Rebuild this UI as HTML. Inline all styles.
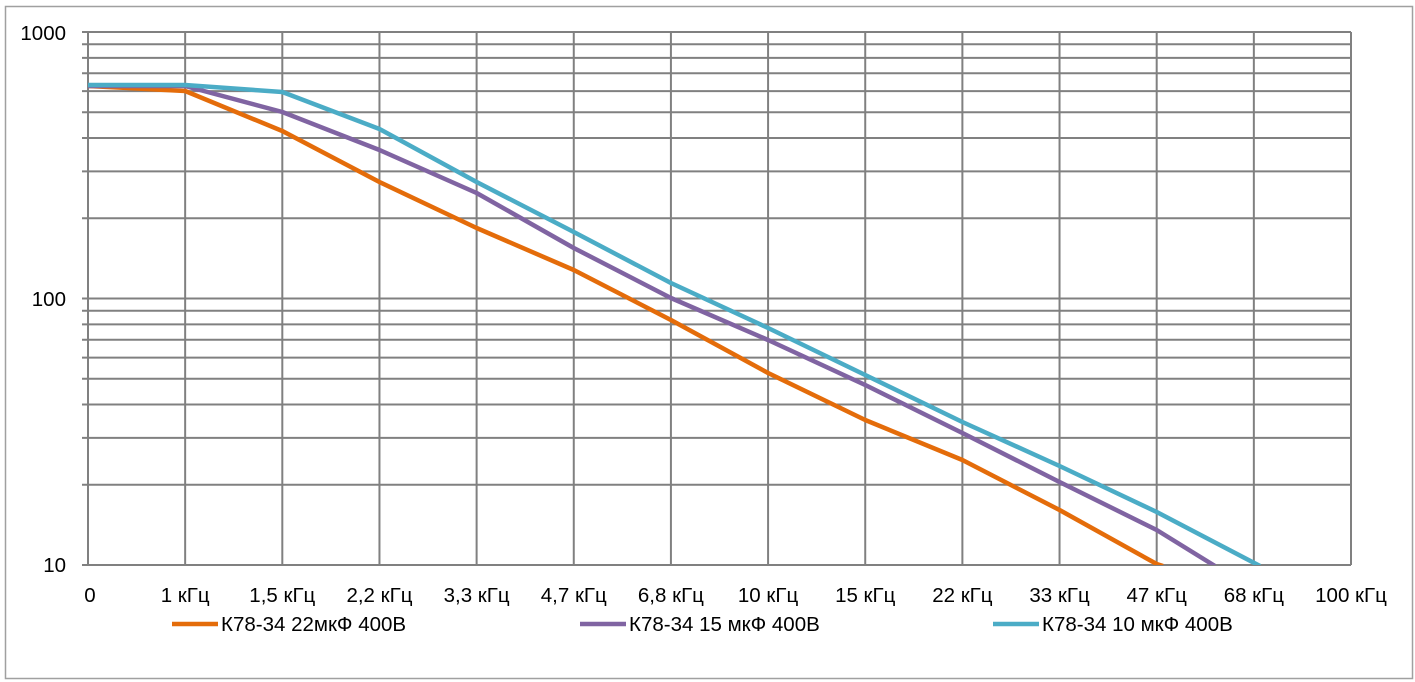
<!DOCTYPE html>
<html><head><meta charset="utf-8"><style>
body{margin:0;background:#fff;}
svg{display:block;font-family:"Liberation Sans",sans-serif;}
</style></head><body>
<svg width="1415" height="682" viewBox="0 0 1415 682">
<rect x="0" y="0" width="1415" height="682" fill="#fff"/>
<rect x="5.5" y="6.5" width="1407" height="672" fill="#fff" stroke="#a0a0a0" stroke-width="1.5"/>
<g stroke="#808080" stroke-width="2" fill="none" id="grid"></g>
<g id="series" fill="none" stroke-width="4.5" stroke-linejoin="round" clip-path="url(#c)"></g>
<defs><clipPath id="c"><rect x="88" y="30" width="1265" height="535"/></clipPath></defs>
<g font-size="20.5" fill="#000" id="labels"></g>
</svg>
<script>
var ns="http://www.w3.org/2000/svg";
function el(p,t,a,txt){var e=document.createElementNS(ns,t);for(var k in a)e.setAttribute(k,a[k]);if(txt)e.textContent=txt;p.appendChild(e);return e;}
var g=document.getElementById('grid'),L=88,R=1351,T=32,B=565;
function Y(v){return B-(Math.log10(v)-1)*(B-T)/2;}
for(var d=10;d<=100;d*=10)for(var m=1;m<=10;m++){var v=d*m;if(v>1000)continue;var y=Y(v);el(g,'line',{x1:L-6,x2:R,y1:y,y2:y});}
var step=(R-L)/13;
for(var i=0;i<=13;i++){var x=L+i*step;el(g,'line',{x1:x,x2:x,y1:T,y2:B});}
var lb=document.getElementById('labels');
[[1000,40],[100,306],[10,572]].forEach(function(a){el(lb,'text',{x:66,y:a[1],'text-anchor':'end'},String(a[0]));});
var cats=["0","1 кГц","1,5 кГц","2,2 кГц","3,3 кГц","4,7 кГц","6,8 кГц","10 кГц","15 кГц","22 кГц","33 кГц","47 кГц","68 кГц","100 кГц"];
cats.forEach(function(c,i){el(lb,'text',{x:L+i*step+(i==0?2:0),y:602,'text-anchor':'middle'},c);});
var s=document.getElementById('series');
var data=[["#e46c0a",[86,91,131,182,228,270,320,373,420,460,510,564],[[1163,566]]],
["#8064a2",[86,86,112,150,193,248,298,340,385,433,482,530],[[1215,566]]],
["#4bacc6",[85,85,92,129,182,232,283,328,375,422,466,512],[[1260,566]]]];
data.forEach(function(d){var pts=d[1].map(function(y,i){return (L+i*step)+','+y;});d[2].forEach(function(p){pts.push(p.join(','));});
el(s,'polyline',{points:pts.join(' '),stroke:d[0]});});
var leg=[["#e46c0a",172,"К78-34 22мкФ 400В"],["#8064a2",580,"К78-34 15 мкФ 400В"],["#4bacc6",993,"К78-34 10 мкФ 400В"]];
leg.forEach(function(l){el(lb,'line',{x1:l[1],x2:l[1]+46,y1:624,y2:624,stroke:l[0],'stroke-width':4.5});el(lb,'text',{x:l[1]+49,y:631},l[2]);});
</script>
</body></html>
